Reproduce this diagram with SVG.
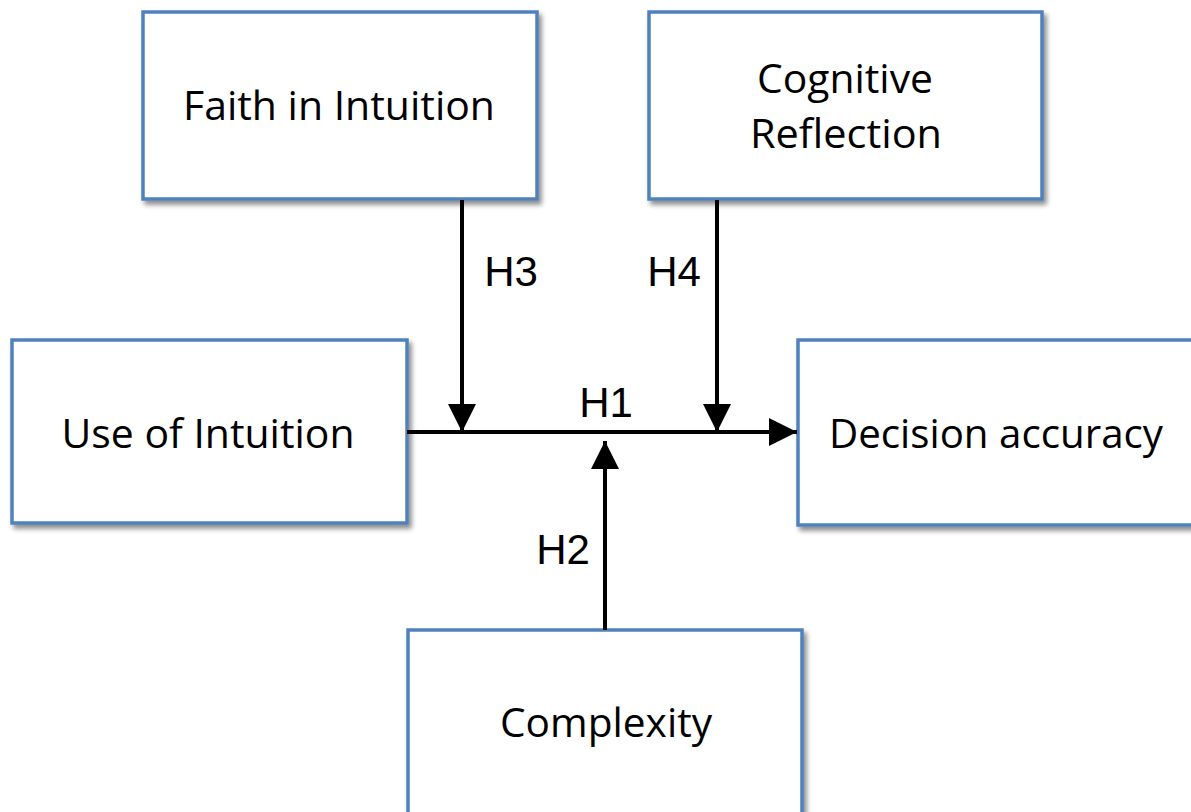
<svg xmlns="http://www.w3.org/2000/svg" width="1191" height="812" viewBox="0 0 1191 812">
<defs>
<filter id="sh" x="-10%" y="-10%" width="130%" height="130%">
<feDropShadow dx="3" dy="4" stdDeviation="2.5" flood-color="#000" flood-opacity="0.45"/>
</filter>
<marker id="ah" viewBox="0 0 10 10" refX="10" refY="5" markerWidth="7" markerHeight="7" markerUnits="strokeWidth" orient="auto">
<path d="M0,0 L10,5 L0,10 z" fill="#000"/>
</marker>
<style>
.box{fill:#fff;stroke:#4f81bd;stroke-width:3.5;filter:url(#sh)}
.lbl{font-family:"Open Sans","Liberation Sans",sans-serif;font-size:40px;fill:#000;text-anchor:middle}
.h{font-family:"Liberation Sans",Arial,sans-serif;font-size:42px;fill:#000;text-anchor:middle}
.c{stroke:#000;stroke-width:4;fill:none;marker-end:url(#ah)}
</style>
</defs>
<rect width="1191" height="812" fill="#fff"/>
<g id="faith">
<rect class="box" x="143" y="12" width="394" height="187"/>
<text class="lbl" x="339" y="120" textLength="312" lengthAdjust="spacingAndGlyphs">Faith in Intuition</text>
</g>
<g id="cognitive">
<rect class="box" x="649" y="12" width="393" height="187"/>
<text class="lbl" x="845" y="93" textLength="176" lengthAdjust="spacingAndGlyphs">Cognitive</text>
<text class="lbl" x="846" y="148" textLength="192" lengthAdjust="spacingAndGlyphs">Reflection</text>
</g>
<g id="use">
<rect class="box" x="12" y="340" width="395" height="183"/>
<text class="lbl" x="208" y="448" textLength="293" lengthAdjust="spacingAndGlyphs">Use of Intuition</text>
</g>
<g id="decision">
<rect class="box" x="798" y="340" width="400" height="185"/>
<text class="lbl" x="996" y="448" textLength="334" lengthAdjust="spacingAndGlyphs">Decision accuracy</text>
</g>
<g id="complexity">
<rect class="box" x="408" y="630" width="394" height="200"/>
<text class="lbl" x="606" y="737" textLength="212" lengthAdjust="spacingAndGlyphs">Complexity</text>
</g>
<g id="connectors">
<line class="c" x1="407" y1="432" x2="797" y2="432"/>
<line class="c" x1="462" y1="200" x2="462" y2="432"/>
<line class="c" x1="717" y1="200" x2="717" y2="432"/>
<line class="c" x1="605" y1="630" x2="605" y2="441"/>
<text class="h" x="606" y="417">H1</text>
<text class="h" x="563" y="564">H2</text>
<text class="h" x="511" y="286">H3</text>
<text class="h" x="674" y="286">H4</text>
</g>
</svg>
